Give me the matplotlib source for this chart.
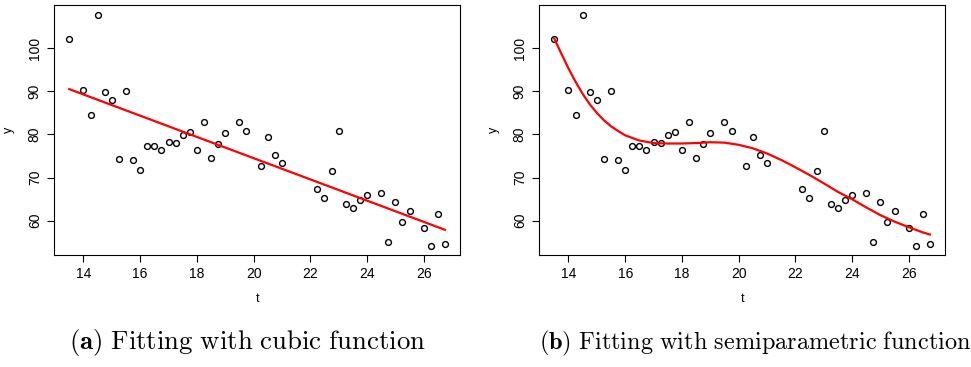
import matplotlib
matplotlib.use("Agg")
import matplotlib.pyplot as plt

# datos observados (t, y)
t = [13.5, 14.0, 14.25, 14.5, 14.75, 15.0, 15.25, 15.5, 15.75, 16.0,
     16.25, 16.5, 16.75, 17.0, 17.25, 17.5, 17.75, 18.0, 18.25, 18.5,
     18.75, 19.0, 19.5, 19.75, 20.25, 20.5, 20.75, 21.0, 22.25, 22.5,
     22.75, 23.0, 23.25, 23.5, 23.75, 24.0, 24.5, 24.75, 25.0, 25.25,
     25.5, 26.0, 26.25, 26.5, 26.75]
y = [102.2, 90.4, 84.5, 107.8, 89.9, 87.9, 74.4, 90.0, 74.1, 71.8,
     77.3, 77.3, 76.4, 78.3, 78.1, 79.8, 80.6, 76.5, 82.9, 74.6,
     77.7, 80.3, 82.9, 80.8, 72.8, 79.4, 75.3, 73.3, 67.4, 65.2,
     71.6, 80.7, 63.9, 63.0, 64.9, 66.0, 66.4, 55.0, 64.3, 59.6,
     62.3, 58.4, 54.2, 61.6, 54.6]

# curva ajustada (a)
fit_a_t = [13.5, 26.75]
fit_a_y = [90.5, 57.9]

# curva ajustada (b)
fit_b_t = [13.5, 13.75, 14.0, 14.25, 14.5, 14.75, 15.0, 15.25, 15.5, 15.75,
           16.0, 16.5, 17.0, 17.5, 18.0, 18.5, 19.0, 19.5, 20.0, 20.5,
           21.0, 21.5, 22.0, 22.5, 23.0, 23.5, 24.0, 24.5, 25.0, 25.5,
           26.0, 26.5, 26.75]
fit_b_y = [102.2, 98.7, 95.3, 92.2, 89.4, 87.0, 85.0, 83.3, 81.9, 80.8,
           79.8, 78.6, 78.0, 77.9, 77.9, 78.0, 78.2, 78.1, 77.6, 76.8,
           75.6, 74.1, 72.4, 70.6, 68.7, 66.7, 65.0, 63.1, 61.3, 59.8,
           58.5, 57.3, 56.8]

xticks = [14, 16, 18, 20, 22, 24, 26]
yticks = [60, 70, 80, 90, 100]

captions = [r"$\mathbf{(a)}\ \mathrm{Fitting\ with\ cubic\ function}$",
            r"$\mathbf{(b)}\ \mathrm{Fitting\ with\ semiparametric\ function}$"]

plt.rcParams["font.family"] = ["Liberation Sans", "DejaVu Sans"]
plt.rcParams["mathtext.fontset"] = "cm"

fig = plt.figure(figsize=(9.71, 3.67), dpi=100)
ax_a = fig.add_axes([0.0559, 0.3052, 0.4178, 0.6804])
ax_b = fig.add_axes([0.5554, 0.3052, 0.4178, 0.6804])

for ax, ft, fy in [(ax_a, fit_a_t, fit_a_y), (ax_b, fit_b_t, fit_b_y)]:
    ax.plot(t, y, "o", mfc="none", mec="black", ms=4.2, mew=1.0)
    ax.plot(ft, fy, color="red", lw=1.6)
    ax.set_xlim(12.97, 27.28)
    ax.set_ylim(52.06, 109.94)
    ax.set_xticks(xticks)
    ax.set_yticks(yticks)
    ax.tick_params(direction="out", length=5, width=0.8, labelsize=10, pad=4)
    for lbl in ax.get_yticklabels():
        lbl.set_rotation(90)
        lbl.set_va("center")
    for s in ax.spines.values():
        s.set_linewidth(0.8)
    ax.set_xlabel("t", fontsize=9, labelpad=8)
    ax.set_ylabel("y", fontsize=9, labelpad=9)

fig.text(0.2554, 0.0654, captions[0], ha="center", va="center", fontsize=19.3)
fig.text(0.7775, 0.0654, captions[1], ha="center", va="center", fontsize=17.5)

fig.savefig("out.png", dpi=100)
